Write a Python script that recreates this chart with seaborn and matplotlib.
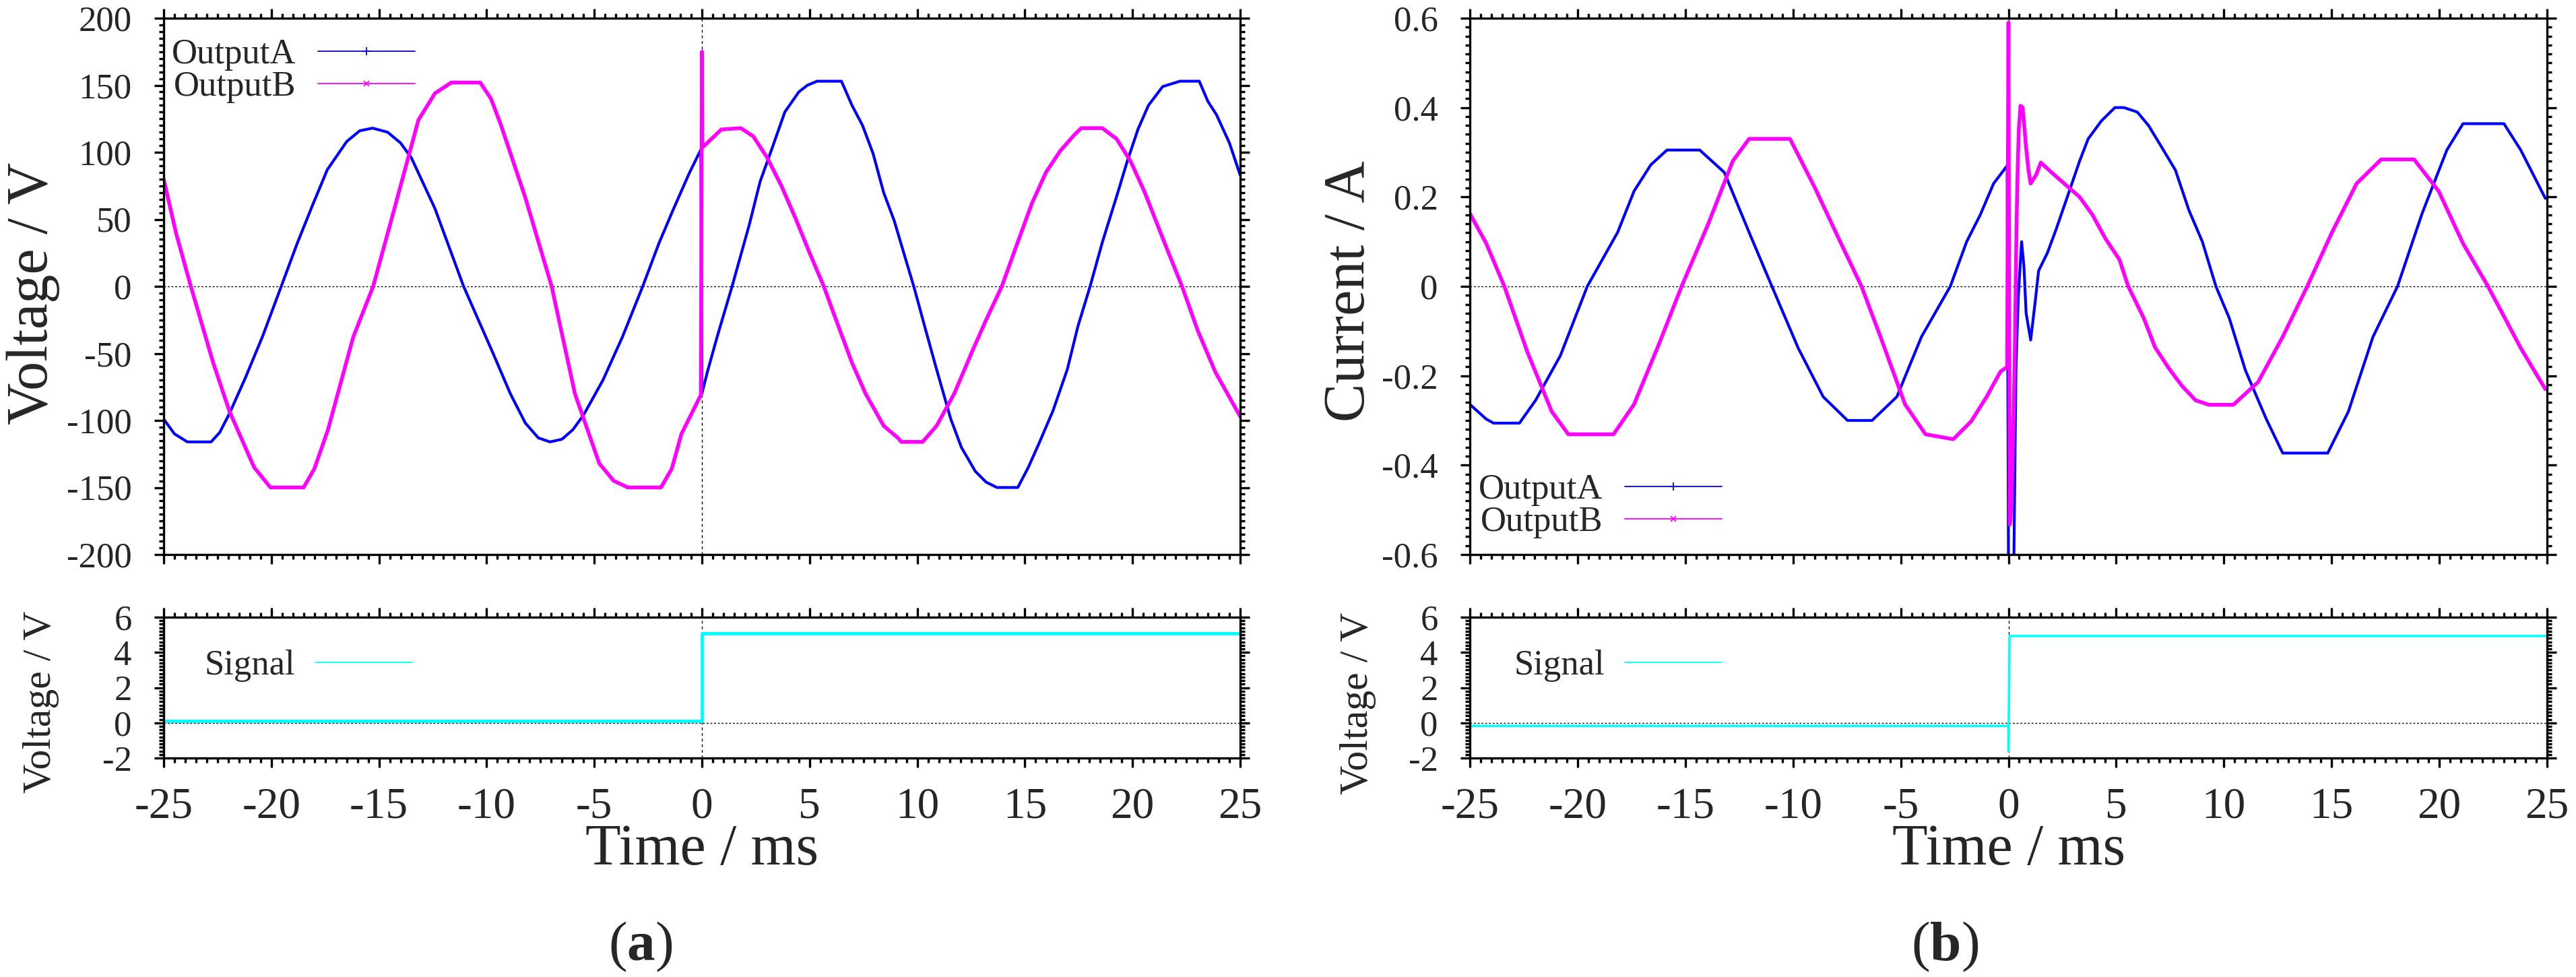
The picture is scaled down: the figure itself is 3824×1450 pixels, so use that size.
import matplotlib
matplotlib.use('Agg')
import matplotlib.pyplot as plt
from matplotlib.lines import Line2D
from matplotlib.ticker import MultipleLocator, FuncFormatter
import seaborn as sns

# ---- data (time in ms) ----
volt_a_t = [-25.0, -24.5, -23.9, -22.8, -22.4, -21.95, -21.2, -20.4, -19.54, -18.8,
            -18.1, -17.4, -16.5, -15.9, -15.3, -14.6, -14.0, -13.5, -12.4, -11.07,
            -9.7, -8.9, -8.2, -7.6, -7.06, -6.5, -6.0, -5.5, -4.6, -3.7,
            -2.75, -2.0, -1.34, -0.6, -0.05, 0.0, 0.25, 0.7, 1.4, 2.2,
            2.7, 3.28, 3.85, 4.5, 4.9, 5.35, 6.48, 6.97, 7.46, 7.95,
            8.44, 8.93, 9.43, 9.84, 10.4, 10.9, 11.56, 12.05, 12.7, 13.2,
            13.7, 14.67, 15.16, 15.66, 16.3, 16.97, 17.46, 18.03, 18.6, 19.26,
            19.75, 20.25, 20.74, 21.4, 22.2, 23.1, 23.5, 23.9, 24.5, 25.0]
volt_a = [-99, -110, -116, -116, -109, -95, -68, -37, 0, 32,
          60, 87, 108, 116, 118, 115, 107, 96, 58, 0,
          -50, -80, -102, -113, -116, -114, -107, -96, -70, -38,
          0, 32, 57, 84, 102, -80, -64, -38, 0, 46,
          78, 104, 130, 145, 150, 153, 153, 135, 120, 99,
          70, 49, 22, 0, -33, -62, -99, -120, -138, -146,
          -150, -150, -135, -117, -93, -62, -30, 0, 33, 67,
          93, 117, 135, 149, 153, 153, 138, 128, 107, 83]

volt_b_t = [-25.0, -24.43, -23.74, -22.7, -21.95, -20.8, -20.04, -18.5, -18.0, -17.37,
            -16.2, -15.27, -14.3, -13.17, -12.4, -11.64, -10.3, -9.8, -9.35, -8.2,
            -6.98, -5.9, -4.77, -4.1, -3.44, -1.9, -1.4, -0.95, -0.05, 0.0,
            0.02, 0.05, 0.25, 0.9, 1.8, 2.38, 3.03, 3.69, 4.34, 5.0,
            5.66, 6.3, 6.97, 7.6, 8.44, 9.1, 9.26, 10.25, 10.9, 11.72,
            12.54, 13.2, 13.93, 14.67, 15.33, 15.98, 16.64, 17.3, 17.62, 18.6,
            19.26, 19.92, 20.57, 21.4, 22.3, 23.03, 23.85, 25.0]
volt_b = [80, 40, 0, -57, -93, -135, -150, -150, -136, -107,
          -38, 0, 57, 124, 144, 152, 152, 140, 121, 66,
          0, -80, -132, -145, -150, -150, -136, -110, -81, 175,
          104, 104, 107, 117, 118, 112, 96, 75, 51, 25,
          0, -28, -57, -80, -104, -113, -116, -116, -104, -80,
          -49, -25, 0, 33, 62, 85, 101, 113, 118, 118,
          110, 93, 70, 36, 0, -33, -64, -97]

curr_a_t = [-25.0, -24.24, -23.9, -22.7, -21.95, -20.8, -19.55, -18.14, -17.38, -16.6,
            -15.85, -14.33, -13.19, -12.04, -10.98, -9.76, -8.6, -7.47, -6.33, -5.18,
            -4.04, -2.7, -1.94, -1.31, -0.69, -0.06, 0.0, 0.25, 0.35, 0.46,
            0.61, 0.72, 0.82, 1.03, 1.24, 1.4, 1.81, 2.23, 2.66, 3.3,
            3.7, 4.31, 4.94, 5.36, 5.98, 6.5, 7.13, 7.75, 8.38, 9.0,
            9.63, 10.25, 11.0, 11.97, 12.73, 14.82, 15.78, 16.92, 18.06, 19.2,
            20.35, 21.1, 23.0, 23.78, 24.92]
curr_a = [-0.264, -0.297, -0.306, -0.306, -0.255, -0.155, 0.0, 0.121, 0.213, 0.272,
          0.305, 0.305, 0.255, 0.121, 0.0, -0.138, -0.247, -0.30, -0.30, -0.247,
          -0.113, 0.0, 0.10, 0.16, 0.23, 0.27, -0.62, -0.62, -0.18, -0.02,
          0.10, 0.044, -0.06, -0.12, -0.035, 0.035, 0.075, 0.13, 0.19, 0.28,
          0.33, 0.37, 0.40, 0.40, 0.39, 0.36, 0.31, 0.26, 0.17, 0.10,
          0.0, -0.071, -0.188, -0.297, -0.373, -0.373, -0.28, -0.113, 0.0, 0.163,
          0.305, 0.364, 0.364, 0.305, 0.197]

curr_b_t = [-25.0, -24.24, -23.4, -22.33, -21.2, -20.43, -18.33, -17.38, -16.23, -15.17,
            -13.95, -12.8, -12.04, -10.14, -9.0, -7.85, -6.82, -5.94, -4.8, -3.85,
            -2.56, -1.73, -1.0, -0.375, -0.06, 0.0, 0.06, 0.1, 0.17, 0.25,
            0.3, 0.35, 0.41, 0.48, 0.56, 0.66, 0.75, 0.82, 0.93, 1.03,
            1.29, 1.5, 2.02, 2.66, 3.3, 3.9, 4.5, 5.15, 5.56, 6.29,
            6.8, 7.44, 8.06, 8.69, 9.31, 10.44, 11.59, 12.73, 13.87, 15.02,
            16.16, 17.3, 18.83, 19.97, 21.1, 22.26, 23.78, 24.92]
curr_b = [0.163, 0.096, 0.0, -0.147, -0.28, -0.331, -0.331, -0.264, -0.13, 0.0,
          0.138, 0.28, 0.33, 0.33, 0.222, 0.104, 0.0, -0.113, -0.264, -0.331,
          -0.342, -0.302, -0.246, -0.191, -0.18, 0.59, -0.533, -0.52, -0.43, -0.26,
          -0.128, 0.055, 0.23, 0.35, 0.404, 0.40, 0.35, 0.31, 0.26, 0.23,
          0.25, 0.277, 0.254, 0.227, 0.20, 0.16, 0.107, 0.06, 0.0, -0.072,
          -0.136, -0.183, -0.223, -0.255, -0.265, -0.265, -0.214, -0.113, 0.0, 0.121,
          0.23, 0.284, 0.284, 0.213, 0.096, 0.0, -0.138, -0.23]

sig_a_t = [-25.0, 0.0, 0.0, 25.0]
sig_a = [0.1, 0.1, 5.1, 5.1]
sig_b_t = [-25.0, 0.0, 0.0, 0.05, 25.0]
sig_b = [-0.18, -0.18, -1.6, 4.93, 4.93]

BLUE = '#0000ff'
MAGENTA = '#ff00ff'
CYAN = '#00ffff'

sns.set_style('ticks')
plt.rcParams['font.family'] = ['Liberation Serif', 'DejaVu Serif']
plt.rcParams['axes.unicode_minus'] = False
plt.rcParams['mathtext.fontset'] = 'custom'
plt.rcParams['mathtext.rm'] = 'Liberation Serif'
plt.rcParams['mathtext.bf'] = 'Liberation Serif:bold'

W, H = 3824, 1450
fig = plt.figure(figsize=(W / 100, H / 100), dpi=100)


def box(x0, y0, x1, y1):
    # pixel box (top-left origin) -> figure fraction
    return [x0 / W, 1 - y1 / H, (x1 - x0) / W, (y1 - y0) / H]


def fmt(v, pos):
    v = round(v, 6)
    return '0' if v == 0 else f'{v:g}'


def style(ax, ylim, ymajor, yminor, show_x):
    ax.axhline(0, color='black', lw=1.0, ls=(0, (2, 2)), zorder=1)
    ax.axvline(0, color='black', lw=1.0, ls=(0, (3, 3)), zorder=1)
    ax.set_xlim(-25, 25)
    ax.set_ylim(*ylim)
    ax.xaxis.set_major_locator(MultipleLocator(5))
    ax.xaxis.set_minor_locator(MultipleLocator(0.5))
    ax.yaxis.set_major_locator(MultipleLocator(ymajor))
    ax.yaxis.set_minor_locator(MultipleLocator(yminor))
    ax.xaxis.set_major_formatter(FuncFormatter(fmt))
    ax.yaxis.set_major_formatter(FuncFormatter(fmt))
    ax.tick_params(which='both', direction='out', top=True, right=True,
                   width=2.4, color='black')
    ax.tick_params(which='major', length=10)
    ax.tick_params(which='minor', length=5)
    ax.tick_params(axis='x', labelsize=47, pad=21, labelbottom=show_x)
    ax.tick_params(axis='y', labelsize=38, pad=24)
    for s in ax.spines.values():
        s.set_linewidth(2.4)
        s.set_color('black')
    ax.set_xlabel('')
    ax.set_ylabel('')


def pair_legend(ax, loc, anchor):
    handles = [Line2D([], [], color=BLUE, lw=1.3, marker='+', ms=9, mew=1.3),
               Line2D([], [], color=MAGENTA, lw=1.3, marker='x', ms=6, mew=1.3)]
    ax.legend(handles, ['OutputA', 'OutputB'], loc=loc, bbox_to_anchor=anchor,
              frameon=False, fontsize=38, markerfirst=False, numpoints=1,
              handlelength=2.73, handletextpad=0.62, borderpad=0,
              borderaxespad=0, labelspacing=0.0)


def signal_legend(ax, anchor):
    handles = [Line2D([], [], color=CYAN, lw=1.3)]
    ax.legend(handles, ['Signal'], loc='upper left', bbox_to_anchor=anchor,
              frameon=False, fontsize=38, markerfirst=False,
              handlelength=2.73, handletextpad=0.57, borderpad=0,
              borderaxespad=0)


ax_va = fig.add_axes(box(243, 27, 1841, 823))
ax_sa = fig.add_axes(box(243, 916, 1841, 1125))
ax_ib = fig.add_axes(box(2182, 27, 3781, 823))
ax_sb = fig.add_axes(box(2182, 916, 3781, 1125))

# (a) voltage
style(ax_va, (-200, 200), 50, 5, False)
sns.lineplot(x=volt_a_t, y=volt_a, ax=ax_va, color=BLUE, lw=3.0,
             sort=False, estimator=None, legend=False)
sns.lineplot(x=volt_b_t, y=volt_b, ax=ax_va, color=MAGENTA, lw=4.0,
             sort=False, estimator=None, legend=False)
pair_legend(ax_va, 'upper left', (0.0075, 0.962))

style(ax_sa, (-2, 6), 2, 0.2, True)
sns.lineplot(x=sig_a_t, y=sig_a, ax=ax_sa, color=CYAN, lw=3.5,
             sort=False, estimator=None, legend=False)
signal_legend(ax_sa, (0.038, 0.77))

# (b) current
style(ax_ib, (-0.6, 0.6), 0.2, 0.02, False)
sns.lineplot(x=curr_a_t, y=curr_a, ax=ax_ib, color=BLUE, lw=3.0,
             sort=False, estimator=None, legend=False)
sns.lineplot(x=curr_b_t, y=curr_b, ax=ax_ib, color=MAGENTA, lw=4.0,
             sort=False, estimator=None, legend=False)
pair_legend(ax_ib, 'lower left', (0.008, 0.030))

style(ax_sb, (-2, 6), 2, 0.2, True)
sns.lineplot(x=sig_b_t, y=sig_b, ax=ax_sb, color=CYAN, lw=2.5,
             sort=False, estimator=None, legend=False)
signal_legend(ax_sb, (0.041, 0.77))


def ftext(x, y, s, **kw):
    fig.text(x / W, 1 - y / H, s, ha='center', va='center', **kw)


ftext(49, 435, 'Voltage / V', rotation=90, fontsize=62)
ftext(2004, 432, 'Current / A', rotation=90, fontsize=62)
ftext(61, 1042, 'Voltage / V', rotation=90, fontsize=43)
ftext(2016, 1044, 'Voltage / V', rotation=90, fontsize=43)
ftext(1042, 1262, 'Time / ms', fontsize=62)
ftext(2982, 1262, 'Time / ms', fontsize=62)
ftext(951, 1405, r'($\mathbf{a}$)', fontsize=60)
ftext(2887, 1405, r'($\mathbf{b}$)', fontsize=60)

fig.savefig('out.png', dpi=100, facecolor='white')
plt.close(fig)
